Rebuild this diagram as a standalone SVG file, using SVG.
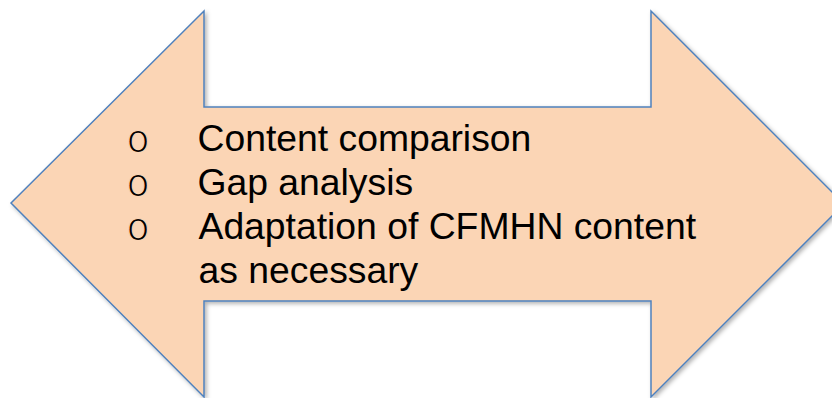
<svg xmlns="http://www.w3.org/2000/svg" width="832" height="398" viewBox="0 0 832 398">
  <defs>
    <filter id="shadow" x="-10%" y="-10%" width="130%" height="130%">
      <feDropShadow dx="2" dy="2" stdDeviation="2" flood-color="#000000" flood-opacity="0.3"/>
    </filter>
    <style>
      .arrow { fill: #fbd5b5; stroke: #4f81bd; stroke-width: 1.5; stroke-linejoin: miter; }
      .txt { font-family: "Liberation Sans", Arial, sans-serif; font-size: 37.3px; fill: #000000; }
      .bul { font-family: "DejaVu Sans", sans-serif; font-size: 37px; fill: #000000; stroke: #fbd5b5; stroke-width: 1.2; text-anchor: middle; }
    </style>
  </defs>
  <rect width="832" height="398" fill="#ffffff"/>
  <g id="double-arrow">
    <polygon class="arrow" filter="url(#shadow)" points="11,203 204,11 204,107 651,107 651,11 844,204 651,397 651,301 204,301 204,397"/>
  </g>
  <g id="text-list">
    <text class="bul" x="138" y="151.5">o</text>
    <text class="bul" x="138" y="195.5">o</text>
    <text class="bul" x="138" y="239.5">o</text>
    <text class="txt" x="197.5" y="151">Content comparison</text>
    <text class="txt" x="197.5" y="195">Gap analysis</text>
    <text class="txt" x="198.5" y="239">Adaptation of CFMHN content</text>
    <text class="txt" x="198.5" y="283">as necessary</text>
  </g>
</svg>
